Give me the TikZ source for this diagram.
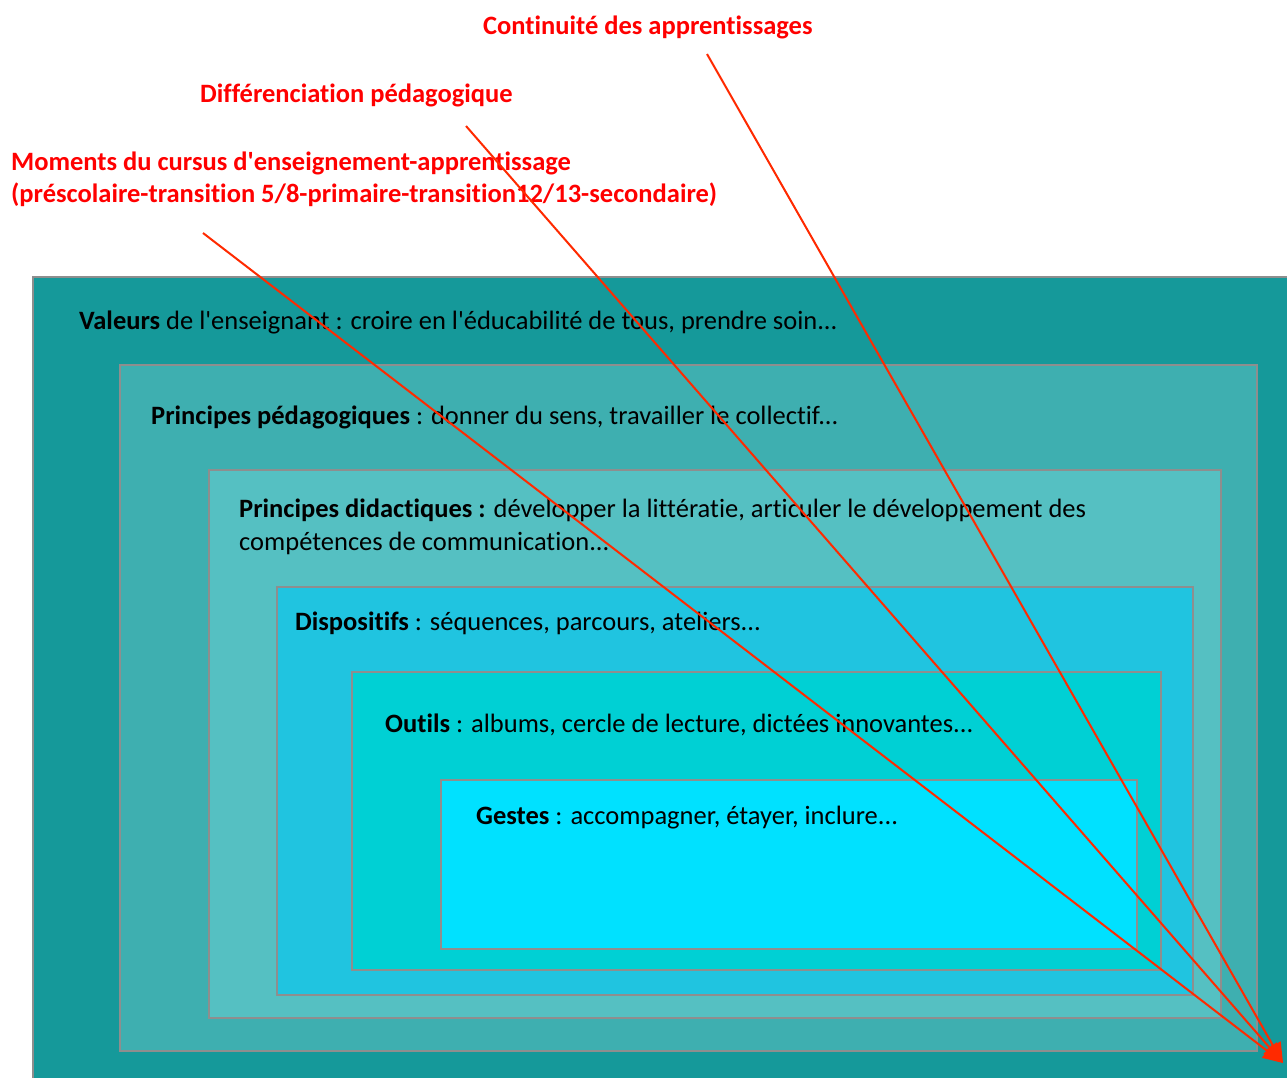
\documentclass[tikz,border=0pt]{standalone}
\usepackage{fontspec}
\setmainfont{Carlito}[Ligatures={NoCommon}]
\usetikzlibrary{arrows.meta}
\definecolor{c1}{HTML}{15999A}
\definecolor{c2}{HTML}{3EAFB0}
\definecolor{c3}{HTML}{55C0C2}
\definecolor{c4}{HTML}{20C4E0}
\definecolor{c5}{HTML}{00D0D4}
\definecolor{c6}{HTML}{00E1FF}
\definecolor{bord}{HTML}{8E8E8E}
\definecolor{redtxt}{HTML}{FF0000}
\definecolor{redarr}{HTML}{FF2A00}
\newcommand{\ap}{\textquotesingle}
\begin{document}
\begin{tikzpicture}[x=1pt,y=-1pt,
  layer/.style={draw=bord,line width=2pt,anchor=north west,inner sep=0pt,outer sep=0pt},
  lbl/.style={anchor=base west,inner sep=0pt,font=\fontsize{26.5}{33}\selectfont,align=left},
  rlbl/.style={anchor=base west,inner sep=0pt,text=redtxt,font=\fontsize{26.5}{32}\selectfont\bfseries,align=left},
  arr/.style={draw=redarr,line width=2pt,-{Triangle[length=20pt,width=17pt]}}]
\useasboundingbox (0,0) rectangle (1287,1077);
\fill[white] (0,0) rectangle (1287,1077);
\node[layer,fill=c1,minimum width=1280pt,minimum height=820pt] (l1) at (33,277) {};
\node[layer,fill=c2,minimum width=1137pt,minimum height=686pt] (l2) at (120,365) {};
\node[layer,fill=c3,minimum width=1012pt,minimum height=548pt] (l3) at (209,470) {};
\node[layer,fill=c4,minimum width=916pt,minimum height=408pt] (l4) at (277,587) {};
\node[layer,fill=c5,minimum width=809pt,minimum height=298pt] (l5) at (352,672) {};
\node[layer,fill=c6,minimum width=696pt,minimum height=169pt] (l6) at (441,780) {};
\node[lbl] (t1) at (79,329) {\textbf{Valeurs} de l\ap enseignant : croire en l\ap éducabilité de tous, prendre soin...};
\node[lbl] (t2) at (151,424) {\textbf{Principes pédagogiques} : donner du sens, travailler le collectif...};
\node[lbl] (t3) at (239,550) {\textbf{Principes didactiques :} développer la littératie, articuler le développement des\\compétences de communication...};
\node[lbl] (t4) at (295,630) {\textbf{Dispositifs} : séquences, parcours, ateliers...};
\node[lbl] (t5) at (385,732) {\textbf{Outils} : albums, cercle de lecture, dictées innovantes...};
\node[lbl] (t6) at (476,824) {\textbf{Gestes} : accompagner, étayer, inclure...};
\node[rlbl] (r1) at (483,34) {Continuité des apprentissages};
\node[rlbl] (r2) at (200,102) {Différenciation pédagogique};
\node[rlbl] (r3) at (11,202) {Moments du cursus d\ap enseignement-apprentissage\\(préscolaire-transition 5/8-primaire-transition12/13-secondaire)};
\coordinate (s1) at (707,54);
\coordinate (s2) at (466,126);
\coordinate (s3) at (203,233);
\coordinate (e) at (1283,1063);
\draw[arr] (s1) -- (e);
\draw[arr] (s2) -- (e);
\draw[arr] (s3) -- (e);
\end{tikzpicture}
\end{document}
